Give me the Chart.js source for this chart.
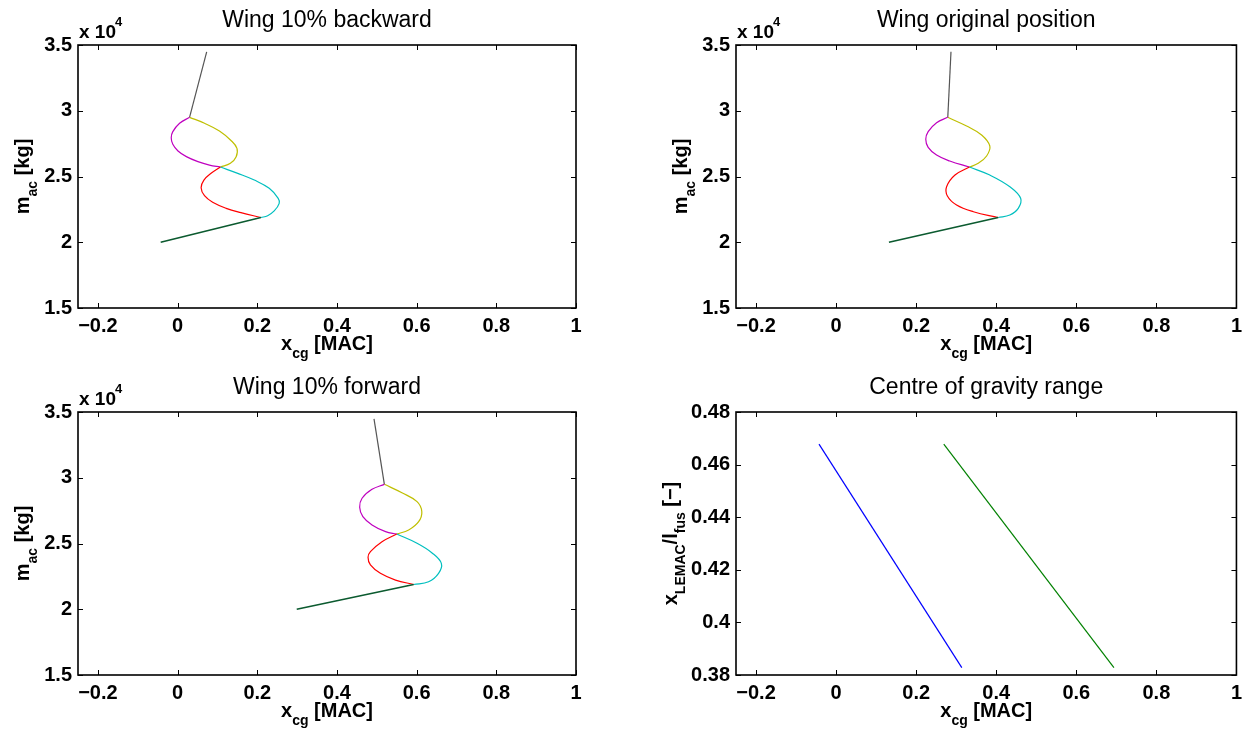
<!DOCTYPE html>
<html>
<head>
<meta charset="utf-8">
<title>Loading diagrams</title>
<script src="https://cdn.jsdelivr.net/npm/chart.js@4.4.1/dist/chart.umd.min.js"></script>
<style>
  html, body { margin: 0; padding: 0; background: #fff; }
  #wrap { position: relative; width: 1248px; height: 736px; }
  #wrap canvas { position: absolute; left: 0; top: 0; }
</style>
</head>
<body>
<div id="wrap">
  <canvas id="cBwd" width="1248" height="736"></canvas>
  <canvas id="cOrg" width="1248" height="736"></canvas>
  <canvas id="cFwd" width="1248" height="736"></canvas>
  <canvas id="cRange" width="1248" height="736"></canvas>
</div>
<script>
// tick values
const xTicks = [-0.2, 0, 0.2, 0.4, 0.6, 0.8, 1];
const massTicks = [15000, 20000, 25000, 30000, 35000];
const ratioTicks = [0.38, 0.40, 0.42, 0.44, 0.46, 0.48];

const titles = ['Wing 10% backward', 'Wing original position', 'Wing 10% forward', 'Centre of gravity range'];

// wing 10% backward  -> [x_cg (MAC), mass (kg)]
const bwdCargo = [[0.209, 21880], [-0.0425, 20000]];
const bwdWindowFront = [[0.1075, 25720], [0.084, 25240], [0.066, 24730], [0.059, 24150], [0.0675, 23540], [0.088, 23040], [0.122, 22580], [0.159, 22250], [0.209, 21880]];
const bwdWindowBack = [[0.1075, 25720], [0.151, 25240], [0.1925, 24730], [0.23, 24100], [0.2525, 23340], [0.255, 22960], [0.2425, 22380], [0.226, 22020], [0.209, 21880]];
const bwdAisleFront = [[0.030, 29500], [0.005, 29050], [-0.012, 28410], [-0.016, 27950], [-0.012, 27450], [0.001, 26940], [0.022, 26510], [0.051, 26130], [0.080, 25870], [0.1075, 25720]];
const bwdAisleBack = [[0.030, 29500], [0.0675, 29050], [0.105, 28460], [0.134, 27740], [0.149, 27140], [0.147, 26510], [0.1325, 26000], [0.1075, 25720]];
const bwdFuel = [[0.030, 29500], [0.073, 34480]];

// wing original position
const orgCargo = [[0.405, 21880], [0.132, 20000]];
const orgWindowFront = [[0.333, 25720], [0.297, 25110], [0.276, 24220], [0.278, 23520], [0.301, 22830], [0.343, 22320], [0.405, 21880]];
const orgWindowBack = [[0.333, 25720], [0.384, 25110], [0.434, 24220], [0.461, 23340], [0.455, 22580], [0.434, 22070], [0.405, 21880]];
const orgAisleFront = [[0.279, 29500], [0.251, 29090], [0.230, 28410], [0.224, 27830], [0.230, 27220], [0.251, 26630], [0.284, 26180], [0.333, 25720]];
const orgAisleBack = [[0.279, 29500], [0.326, 28840], [0.3635, 28160], [0.384, 27320], [0.376, 26560], [0.355, 26000], [0.333, 25720]];
const orgFuel = [[0.279, 29500], [0.287, 34480]];

// wing 10% forward
const fwdCargo = [[0.5925, 21880], [0.299, 20000]];
const fwdWindowFront = [[0.55, 25720], [0.513, 25140], [0.484, 24380], [0.478, 23950], [0.484, 23370], [0.509, 22730], [0.547, 22220], [0.5925, 21880]];
const fwdWindowBack = [[0.55, 25720], [0.601, 25020], [0.638, 24300], [0.662, 23490], [0.655, 22730], [0.63, 22090], [0.5925, 21880]];
const fwdAisleFront = [[0.519, 29500], [0.488, 29120], [0.463, 28440], [0.457, 27750], [0.465, 27040], [0.488, 26410], [0.522, 25900], [0.55, 25720]];
const fwdAisleBack = [[0.519, 29500], [0.563, 28860], [0.601, 28180], [0.613, 27420], [0.605, 26660], [0.58, 26030], [0.55, 25720]];
const fwdFuel = [[0.519, 29500], [0.493, 34480]];

// centre of gravity range -> [x_cg, x_LEMAC/l_fus]
const rangeForward = [[-0.0427, 0.4678], [0.314, 0.3828]];
const rangeAft = [[0.269, 0.4678], [0.694, 0.3828]];

const FONT = '"Liberation Sans", Arial, Helvetica, sans-serif';
const W = 1248, H = 736;

function fmt(v) {
  const s = String(Number(v.toFixed(2)));
  return s.replace('-', '\u2212');
}

function pts(list) {
  return list.map(p => ({ x: p[0], y: p[1] }));
}

function line(list, color, curved, width) {
  return {
    data: pts(list),
    showLine: true,
    borderColor: color,
    borderWidth: width || 1.2,
    pointRadius: 0,
    tension: curved ? 0.4 : 0
  };
}

function loadingSets(cargo, winF, winB, aisF, aisB, fuel) {
  return [
    line(cargo, '#0b5a2f', false, 1.6),
    line(winF, '#ff0000', true),
    line(winB, '#00bfbf', true),
    line(aisF, '#bf00bf', true),
    line(aisB, '#bfbf00', true),
    line(fuel, '#555555', false)
  ];
}

// text with subscripts, centred on (0,0), baseline at 0
function drawParts(ctx, parts, size) {
  const main = 'bold ' + size + 'px ' + FONT;
  const sub = 'bold ' + Math.round(size * 0.72) + 'px ' + FONT;
  let total = 0;
  const widths = parts.map(p => {
    ctx.font = p[1] ? sub : main;
    const w = ctx.measureText(p[0]).width;
    total += w;
    return w;
  });
  let x = -total / 2;
  ctx.textAlign = 'left';
  ctx.textBaseline = 'alphabetic';
  parts.forEach((p, i) => {
    ctx.font = p[1] ? sub : main;
    ctx.fillText(p[0], x, p[1] ? size * 0.42 : 0);
    x += widths[i];
  });
}

function axesPlugin(texts) {
  return {
    id: 'matlabAxes',
    afterDraw(chart) {
      const ctx = chart.ctx, a = chart.chartArea;
      const xs = chart.scales.x, ys = chart.scales.y;
      ctx.save();
      ctx.strokeStyle = '#000';
      ctx.fillStyle = '#000';
      ctx.lineWidth = 1;
      ctx.beginPath();
      xs.ticks.forEach(t => {
        const px = Math.round(xs.getPixelForValue(t.value)) + 0.5;
        ctx.moveTo(px, a.bottom); ctx.lineTo(px, a.bottom - 5);
        ctx.moveTo(px, a.top); ctx.lineTo(px, a.top + 5);
      });
      ys.ticks.forEach(t => {
        const py = Math.round(ys.getPixelForValue(t.value)) + 0.5;
        ctx.moveTo(a.left, py); ctx.lineTo(a.left + 5, py);
        ctx.moveTo(a.right, py); ctx.lineTo(a.right - 5, py);
      });
      ctx.stroke();
      ctx.lineWidth = 1.6;
      ctx.strokeRect(a.left, a.top, a.right - a.left, a.bottom - a.top);

      // title
      ctx.font = '23px ' + FONT;
      ctx.textAlign = 'center';
      ctx.textBaseline = 'alphabetic';
      ctx.fillText(texts.title, (a.left + a.right) / 2, a.top - 18);

      // exponent
      if (texts.exponent) {
        ctx.font = 'bold 19px ' + FONT;
        ctx.textAlign = 'left';
        ctx.fillText('x 10', a.left + 1, a.top - 7);
        const w = ctx.measureText('x 10').width;
        ctx.font = 'bold 13px ' + FONT;
        ctx.fillText(texts.exponent, a.left + w, a.top - 19);
      }

      // x label
      ctx.save();
      ctx.translate((a.left + a.right) / 2, a.bottom + 42);
      drawParts(ctx, texts.xLabel, 20);
      ctx.restore();

      // y label
      ctx.save();
      ctx.translate(a.left - texts.yGap, (a.top + a.bottom) / 2);
      ctx.rotate(-Math.PI / 2);
      drawParts(ctx, texts.yLabel, 20);
      ctx.restore();

      ctx.restore();
    }
  };
}

function makePanel(id, box, datasets, yMin, yMax, yTicks, yFmt, texts) {
  const tickFont = { family: FONT, size: 20, weight: 'bold' };
  new Chart(document.getElementById(id), {
    type: 'scatter',
    data: { datasets: datasets },
    options: {
      responsive: false,
      animation: false,
      events: [],
      layout: { padding: { left: 0, top: box.top, right: W - box.right, bottom: H - box.bottom - 40 } },
      plugins: { legend: { display: false }, tooltip: { enabled: false } },
      scales: {
        x: {
          type: 'linear', min: -0.25, max: 1,
          grid: { display: false, drawTicks: false }, border: { display: false },
          afterBuildTicks: s => { s.ticks = xTicks.map(v => ({ value: v })); },
          afterFit: s => { s.height = 40; },
          ticks: { font: tickFont, color: '#000', padding: 6, maxRotation: 0, autoSkip: false, callback: v => fmt(v) }
        },
        y: {
          type: 'linear', min: yMin, max: yMax,
          grid: { display: false, drawTicks: false }, border: { display: false },
          afterBuildTicks: s => { s.ticks = yTicks.map(v => ({ value: v })); },
          afterFit: s => { s.width = box.left; },
          ticks: { font: tickFont, color: '#000', padding: 6, autoSkip: false, callback: yFmt }
        }
      }
    },
    plugins: [axesPlugin(texts)]
  });
}

const massFmt = v => fmt(v / 10000);
const xcgLabel = [['x', false], ['cg', true], [' [MAC]', false]];
const massLabel = [['m', false], ['ac', true], [' [kg]', false]];
const ratioLabel = [['x', false], ['LEMAC', true], ['/l', false], ['fus', true], [' [\u2212]', false]];

makePanel('cBwd', { left: 78, top: 45, right: 576, bottom: 308 },
  loadingSets(bwdCargo, bwdWindowFront, bwdWindowBack, bwdAisleFront, bwdAisleBack, bwdFuel),
  15000, 35000, massTicks, massFmt,
  { title: titles[0], xLabel: xcgLabel, yLabel: massLabel, yGap: 49, exponent: '4' });

makePanel('cOrg', { left: 736, top: 45, right: 1237, bottom: 308 },
  loadingSets(orgCargo, orgWindowFront, orgWindowBack, orgAisleFront, orgAisleBack, orgFuel),
  15000, 35000, massTicks, massFmt,
  { title: titles[1], xLabel: xcgLabel, yLabel: massLabel, yGap: 49, exponent: '4' });

makePanel('cFwd', { left: 78, top: 412, right: 576, bottom: 675 },
  loadingSets(fwdCargo, fwdWindowFront, fwdWindowBack, fwdAisleFront, fwdAisleBack, fwdFuel),
  15000, 35000, massTicks, massFmt,
  { title: titles[2], xLabel: xcgLabel, yLabel: massLabel, yGap: 49, exponent: '4' });

makePanel('cRange', { left: 736, top: 412, right: 1237, bottom: 675 },
  [line(rangeForward, '#0000ff', false), line(rangeAft, '#008000', false)],
  0.38, 0.48, ratioTicks, v => fmt(v),
  { title: titles[3], xLabel: xcgLabel, yLabel: ratioLabel, yGap: 59, exponent: null });
</script>
</body>
</html>
